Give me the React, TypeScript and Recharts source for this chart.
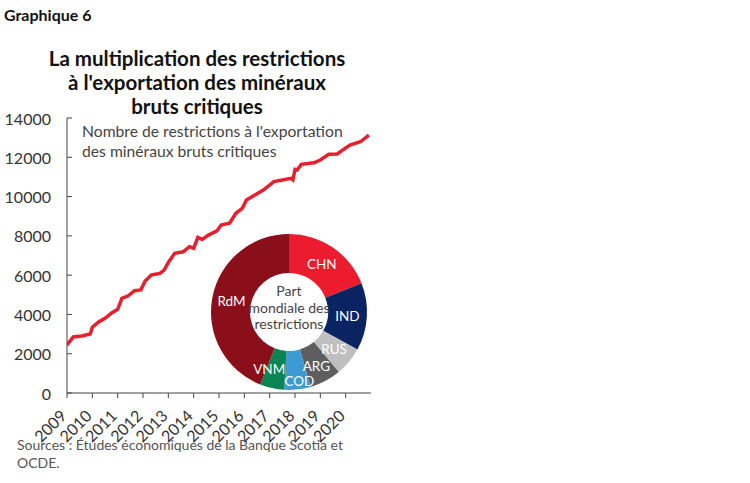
import React from 'react';
import { LineChart, Line, XAxis, YAxis, PieChart, Pie, Cell } from 'recharts';

// ---- Line series: export restrictions on critical raw minerals ----
const months = [
  '2009-01', '2009-04', '2009-08', '2009-12',
  '2010-01', '2010-04', '2010-07', '2010-10',
  '2011-01', '2011-03', '2011-06', '2011-09', '2011-12',
  '2012-02', '2012-05', '2012-09', '2012-11',
  '2013-01', '2013-04', '2013-08', '2013-11',
  '2014-01', '2014-03', '2014-05', '2014-08', '2014-12',
  '2015-02', '2015-06', '2015-09', '2015-12',
  '2016-02', '2016-06', '2016-10',
  '2017-03', '2017-07', '2017-11', '2017-12',
  '2018-01', '2018-02', '2018-04', '2018-10',
  '2019-01', '2019-05', '2019-09', '2019-11',
  '2020-03', '2020-08', '2020-12',
];
const restrictions = [
  2450, 2850, 2900, 3000,
  3350, 3620, 3800, 4060,
  4260, 4820, 4950, 5210, 5250,
  5700, 6010, 6090, 6260,
  6650, 7110, 7190, 7450,
  7370, 7920, 7820, 8040, 8250,
  8550, 8640, 9150, 9400,
  9820, 10080, 10330,
  10760, 10840, 10930, 10850,
  11380, 11350, 11640, 11720,
  11860, 12150, 12170, 12330,
  12620, 12790, 13130,
];
const yearTicks = [2009, 2010, 2011, 2012, 2013, 2014, 2015, 2016, 2017, 2018, 2019, 2020];
const valueTicks = [0, 2000, 4000, 6000, 8000, 10000, 12000, 14000];

// ---- Donut: world share of restrictions ----
const shareNames = ['CHN', 'IND', 'RUS', 'ARG', 'COD', 'VNM', 'RdM'];
const shareValues = [19, 14, 6, 6.5, 5.5, 5, 44];
const shareColors = ['#EC1C2E', '#0A2462', '#BFBFBF', '#5E5E5E', '#3E9AD2', '#0B8454', '#8B0E1B'];

// ---- Texts ----
const chartNumber = 'Graphique 6';
const titleLines = ['La multiplication des restrictions', "à l'exportation des minéraux", 'bruts critiques'];
const seriesLabelLines = ["Nombre de restrictions à l'exportation", 'des minéraux bruts critiques'];
const donutCenterLines = ['Part', 'mondiale des', 'restrictions'];
const sourceLines = ['Sources : Études économiques de la Banque Scotia et', 'OCDE.'];

const lineData = months.map((m, i) => {
  const [y, mo] = m.split('-').map(Number);
  return { t: y + (mo - 1) / 12, v: restrictions[i] };
});
const pieData = shareNames.map((n, i) => ({ name: n, value: shareValues[i] }));

const FONT = 'Lato, "Open Sans", sans-serif';
const RADIAN = Math.PI / 180;

// small pixel nudges for the crowded donut labels (styling only)
const labelNudge: Record<string, [number, number]> = {
  COD: [4, 11],
  VNM: [-7, 0],
  ARG: [0, 2],
};

const YTick = (props: any) => {
  const { x, y, payload } = props;
  return (
    <g>
      <text x={x} y={y} textAnchor="end" dominantBaseline="central" fontSize={16} fill="#333" fontFamily={FONT}>
        {payload.value}
      </text>
      <line x1={x + 16} x2={x + 21} y1={y} y2={y} stroke="#444" strokeWidth={1} />
    </g>
  );
};

const XTick = (props: any) => {
  const { x, y, payload } = props;
  return (
    <text
      transform={`translate(${x + 0.5},${y + 16}) rotate(-45)`}
      x={0}
      y={0}
      textAnchor="end"
      fontSize={16}
      fill="#333"
      fontFamily={FONT}
    >
      {payload.value}
    </text>
  );
};

const renderPieLabel = (props: any) => {
  const { cx, cy, midAngle, innerRadius, outerRadius, name } = props;
  const r = (innerRadius + outerRadius) / 2;
  const nudge = labelNudge[name] || [0, 0];
  const x = cx + r * Math.cos(-midAngle * RADIAN) + nudge[0];
  const y = cy + r * Math.sin(-midAngle * RADIAN) + nudge[1];
  return (
    <text x={x} y={y} fill="#fff" textAnchor="middle" dominantBaseline="central" fontSize={13.5} fontFamily={FONT}>
      {name}
    </text>
  );
};

export default function App() {
  return (
    <div style={{ position: 'absolute', left: 0, top: 0, width: 750, height: 483, background: '#fff' }}>
      <div style={{ position: 'absolute', left: 0, top: 0 }}>
        <LineChart width={750} height={483} data={lineData} margin={{ top: 118, right: 379, bottom: 30, left: 0 }}>
          <XAxis
            dataKey="t"
            type="number"
            domain={[2009, 2021]}
            ticks={yearTicks}
            interval={0}
            allowDataOverflow
            height={60}
            stroke="#444"
            tickSize={5}
            tickMargin={3}
            tick={<XTick />}
          />
          <YAxis
            domain={[0, 14000]}
            ticks={valueTicks}
            interval={0}
            width={67}
            stroke="#444"
            tickLine={false}
            tickSize={0}
            tickMargin={16}
            tick={<YTick />}
          />
          <Line
            type="linear"
            dataKey="v"
            stroke="#E8202E"
            strokeWidth={3.5}
            dot={false}
            isAnimationActive={false}
          />
        </LineChart>
      </div>
      <div style={{ position: 'absolute', left: 189, top: 212 }}>
        <PieChart width={200} height={200} margin={{ top: 0, right: 0, bottom: 0, left: 0 }}>
          <Pie
            data={pieData}
            dataKey="value"
            nameKey="name"
            cx={100}
            cy={100}
            innerRadius={39}
            outerRadius={78}
            startAngle={90}
            endAngle={-270}
            stroke="none"
            label={renderPieLabel}
            labelLine={false}
            isAnimationActive={false}
          >
            {pieData.map((d, i) => (
              <Cell key={d.name} fill={shareColors[i]} />
            ))}
          </Pie>
        </PieChart>
      </div>
      <svg width={750} height={483} style={{ position: 'absolute', left: 0, top: 0, pointerEvents: 'none' }}>
        <text x={4} y={21} fontSize={16} fontWeight={700} fill="#111" fontFamily={FONT}>
          {chartNumber}
        </text>
        {titleLines.map((l, i) => (
          <text key={l} x={197} y={66 + i * 24} textAnchor="middle" fontSize={20.5} fontWeight={700} fill="#111" fontFamily={FONT}>
            {l}
          </text>
        ))}
        {seriesLabelLines.map((l, i) => (
          <text key={l} x={82} y={137 + i * 20} fontSize={15.7} fill="#444" fontFamily={FONT}>
            {l}
          </text>
        ))}
        {donutCenterLines.map((l, i) => (
          <text key={l} x={289} y={296 + i * 16.5} textAnchor="middle" fontSize={14} fill="#444" fontFamily={FONT}>
            {l}
          </text>
        ))}
        {sourceLines.map((l, i) => (
          <text key={l} x={17} y={450 + i * 18} fontSize={14} fill="#555" fontFamily={FONT}>
            {l}
          </text>
        ))}
      </svg>
    </div>
  );
}
